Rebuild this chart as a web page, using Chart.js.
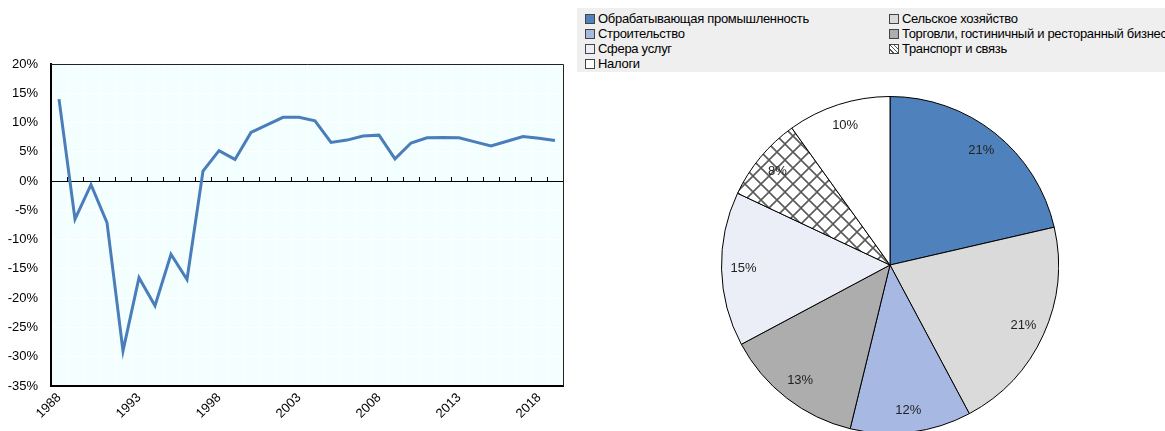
<!DOCTYPE html>
<html>
<head>
<meta charset="utf-8">
<script src="https://cdn.jsdelivr.net/npm/chart.js@4/dist/chart.umd.min.js"></script>
<style>
    html, body { margin: 0; padding: 0; background: #fff; overflow: hidden; width: 1165px; height: 431px; }
    body { position: relative; font-family: 'Liberation Sans', Arial, sans-serif; }
    #lineChart { position: absolute; left: 0; top: 0; }
    #pieChart { position: absolute; left: 721px; top: 96px; }
    #legend { position: absolute; left: 577px; top: 8px; width: 588px; height: 64px; background: #efefef; }
    .item { position: absolute; height: 15px; line-height: 15px; font-size: 13px; letter-spacing: -0.3px; color: #000; white-space: nowrap; }
    .box { display: inline-block; width: 8px; height: 8px; border: 1px solid #444; margin-right: 3px; vertical-align: -1px; }
</style>
</head>
<body>
<div id="legend"></div>
<canvas id="lineChart" width="575" height="431"></canvas>
<canvas id="pieChart" width="338" height="338"></canvas>
<script>
// Line chart data (annual growth, %)
const years = ['1988', '1989', '1990', '1991', '1992', '1993', '1994', '1995', '1996', '1997',
    '1998', '1999', '2000', '2001', '2002', '2003', '2004', '2005', '2006', '2007',
    '2008', '2009', '2010', '2011', '2012', '2013', '2014', '2015', '2016', '2017',
    '2018', '2019'];
const growth = [14.0, -6.5, -0.6, -7.1, -29.0, -16.5, -21.3, -12.5, -16.8, 1.7,
    5.2, 3.7, 8.3, 9.6, 10.9, 10.9, 10.3, 6.6, 7.0, 7.7,
    7.85, 3.8, 6.5, 7.4, 7.45, 7.4, 6.7, 6.0, 6.8, 7.6,
    7.3, 6.95];
const yTicks = [20, 15, 10, 5, 0, -5, -10, -15, -20, -25, -30, -35];

// Pie chart data (share of GDP, %)
const sectors = ['Обрабатывающая промышленность', 'Сельское хозяйство', 'Строительство',
    'Торговли, гостиничный и ресторанный бизнес', 'Сфера услуг', 'Транспорт и связь', 'Налоги'];
const shares = [21.4, 20.8, 11.6, 13.4, 14.8, 8.1, 9.9];

// hatch pattern for "Транспорт и связь"
function makeHatch() {
    const c = document.createElement('canvas');
    c.width = 16; c.height = 16;
    const g = c.getContext('2d');
    g.fillStyle = '#fff';
    g.fillRect(0, 0, 16, 16);
    g.strokeStyle = '#5a5a5a';
    g.lineWidth = 1.6;
    g.beginPath();
    g.moveTo(-1, -1); g.lineTo(17, 17);
    g.moveTo(-1, 17); g.lineTo(17, -1);
    g.stroke();
    return g.createPattern(c, 'repeat');
}

const pieColors = ['#4f81bd', '#dadada', '#a7b9e3', '#adadad', '#ebeef7', makeHatch(), '#ffffff'];
const legendCss = ['#4f81bd', '#dadada', '#a7b9e3', '#adadad', '#ebeef7',
    'repeating-linear-gradient(45deg,#fff 0 2px,#555 2px 3px)', '#ffffff'];

// HTML legend: two columns, filled row by row
function buildLegend() {
    const legend = document.getElementById('legend');
    sectors.forEach((name, i) => {
        const div = document.createElement('div');
        div.className = 'item';
        div.style.left = (i % 2 === 0 ? 8 : 312) + 'px';
        div.style.top = (3 + Math.floor(i / 2) * 15) + 'px';
        div.innerHTML = '<span class="box" style="background:' + legendCss[i] + '"></span>' + name;
        legend.appendChild(div);
    });
}

const plotBackground = {
    id: 'plotBackground',
    beforeDraw(chart) {
        const a = chart.chartArea;
        const ctx = chart.ctx;
        ctx.save();
        ctx.fillStyle = '#f3ffff';
        ctx.fillRect(a.left, a.top, a.right - a.left, a.bottom - a.top);
        ctx.restore();
    },
    afterDraw(chart) {
        const a = chart.chartArea;
        const ctx = chart.ctx;
        ctx.save();
        ctx.strokeStyle = '#222';
        ctx.lineWidth = 1;
        ctx.beginPath();
        ctx.moveTo(a.left, a.top + 0.5);
        ctx.lineTo(a.right + 0.5, a.top + 0.5);
        ctx.lineTo(a.right + 0.5, a.bottom);
        ctx.stroke();
        ctx.restore();
    }
};

const font = "'Liberation Sans', Arial, sans-serif";

function initializeLine() {
    const ctx = document.getElementById('lineChart').getContext('2d');
    new Chart(ctx, {
        type: 'line',
        data: {
            labels: years,
            datasets: [{
                data: growth,
                borderColor: '#4a7ebb',
                borderWidth: 3,
                pointRadius: 0,
                tension: 0,
                fill: false
            }]
        },
        options: {
            responsive: false,
            animation: false,
            layout: {padding: {top: 64, right: 12, left: 0, bottom: 0}},
            plugins: {legend: {display: false}, tooltip: {enabled: false}},
            scales: {
                x: {
                    type: 'category',
                    offset: true,
                    grid: {offset: true, color: '#ffffff', lineWidth: 1, drawTicks: false},
                    border: {color: '#000', width: 2},
                    ticks: {
                        autoSkip: false,
                        minRotation: 45,
                        maxRotation: 45,
                        padding: 4,
                        color: '#000',
                        font: {family: font, size: 13},
                        callback: function (val) {
                            const y = this.getLabelForValue(val);
                            return (parseInt(y) - 1988) % 5 === 0 ? y : '';
                        }
                    },
                    afterFit: s => { s.height = 45; }
                },
                x2: {
                    type: 'category',
                    labels: years,
                    offset: true,
                    position: {y: 0},
                    grid: {offset: true, drawOnChartArea: false, drawTicks: true, tickLength: -5, color: '#000', lineWidth: 1},
                    border: {color: '#000', width: 1},
                    ticks: {display: false}
                },
                y: {
                    min: -35,
                    max: 20,
                    afterBuildTicks: s => { s.ticks = yTicks.map(v => ({value: v})); },
                    grid: {color: '#ffffff', lineWidth: 1, drawTicks: false},
                    border: {color: '#000', width: 2},
                    ticks: {
                        padding: 13,
                        color: '#000',
                        font: {family: font, size: 13},
                        callback: v => v + '%'
                    },
                    afterFit: s => { s.width = 51; }
                }
            }
        },
        plugins: [plotBackground]
    });
}

const sliceLabels = {
    id: 'sliceLabels',
    afterDatasetsDraw(chart) {
        const ctx = chart.ctx;
        const meta = chart.getDatasetMeta(0);
        ctx.save();
        ctx.font = '13px ' + font;
        ctx.fillStyle = '#222';
        ctx.textAlign = 'center';
        ctx.textBaseline = 'middle';
        meta.data.forEach((arc, i) => {
            const p = arc.getProps(['x', 'y', 'startAngle', 'endAngle', 'outerRadius']);
            const mid = (p.startAngle + p.endAngle) / 2;
            const r = p.outerRadius * 0.87;
            ctx.fillText(Math.round(shares[i]) + '%', p.x + Math.cos(mid) * r, p.y + Math.sin(mid) * r);
        });
        ctx.restore();
    }
};

function initializePie() {
    const ctx = document.getElementById('pieChart').getContext('2d');
    new Chart(ctx, {
        type: 'pie',
        data: {
            labels: sectors,
            datasets: [{
                data: shares,
                backgroundColor: pieColors,
                borderColor: '#000',
                borderWidth: 1
            }]
        },
        options: {
            responsive: false,
            animation: false,
            plugins: {legend: {display: false}, tooltip: {enabled: false}}
        },
        plugins: [sliceLabels]
    });
}

buildLegend();
initializeLine();
initializePie();
</script>
</body>
</html>
